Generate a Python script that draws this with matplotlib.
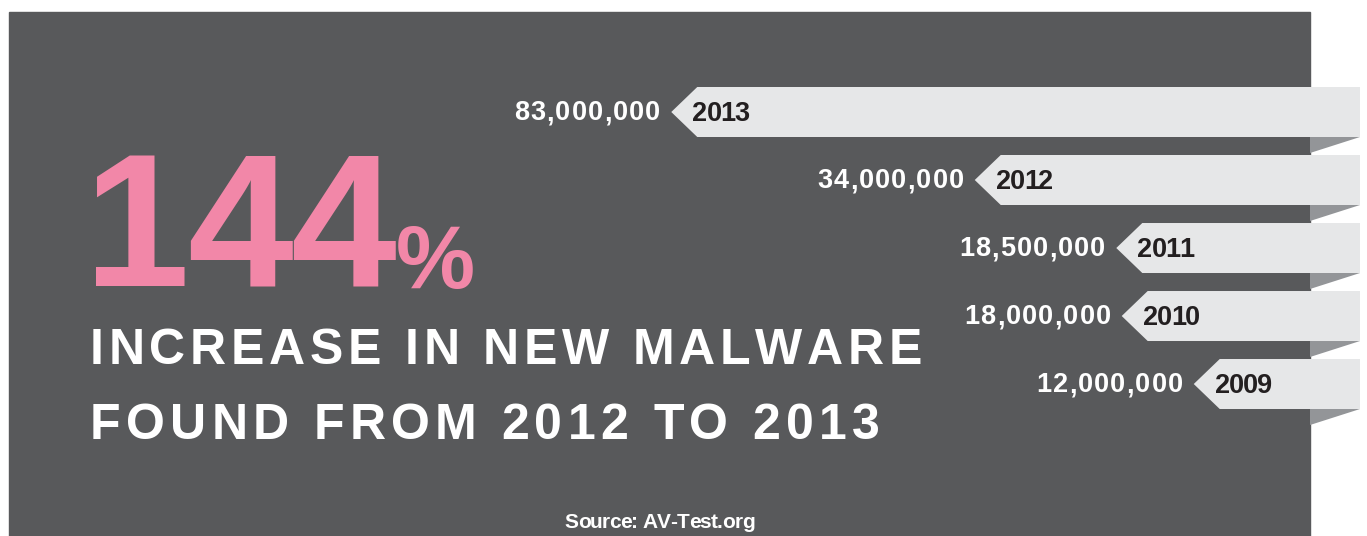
import numpy as np
import matplotlib
matplotlib.use("Agg")
import matplotlib.pyplot as plt
from matplotlib.patches import Polygon, Rectangle
from matplotlib.font_manager import FontProperties, findfont
from matplotlib.ft2font import FT2Font, LoadFlags

# new malware samples per year (AV-Test)
years = ["2013", "2012", "2011", "2010", "2009"]
new_malware = [83_000_000, 34_000_000, 18_500_000, 18_000_000, 12_000_000]
headline_value = "144"
headline_lines = ["INCREASE IN NEW MALWARE", "FOUND FROM 2012 TO 2013"]
source_note = "Source: AV-Test.org"

W, H, DPI = 1367, 536, 100
PANEL = "#58595b"
RIBBON = "#e6e7e8"
FOLD = "#939598"
PINK = "#f287a8"
INK = "#231f20"

BOLD = FontProperties(family=["Liberation Sans", "DejaVu Sans"], weight="bold")
FONT_FILE = findfont(BOLD)


def glyphs(s, size):
    # bearing, ink width and advance (pixels) for every character
    font = FT2Font(FONT_FILE)
    font.set_size(size, DPI)
    out = []
    for ch in s:
        g = font.load_char(ord(ch), flags=LoadFlags.NO_HINTING)
        out.append((ch, g.horiBearingX / 64, g.width / 64, g.linearHoriAdvance / 65536))
    return out


def layout(s, size, tracking):
    # pen origin of each glyph plus the ink extent of the whole run
    pen, placed, inked = 0.0, [], []
    for ch, bx, w, adv in glyphs(s, size):
        placed.append((ch, pen))
        if ch != " ":
            inked.append((pen + bx, pen + bx + w))
        pen += adv + tracking
    return placed, inked[0][0], inked[-1][1]


def tracked_text(ax, x, y, s, size, color, tracking=0.0, width=None, ha="left"):
    if width is not None and len(s) > 1:
        _, l0, r0 = layout(s, size, 0.0)
        tracking = (width - (r0 - l0)) / (len(s) - 1)
    placed, left, right = layout(s, size, tracking)
    if ha == "left":
        shift = x - left
    elif ha == "right":
        shift = x - right
    else:
        shift = x - (left + right) / 2
    for ch, pen in placed:
        if ch == " ":
            continue
        ax.text(pen + shift, y, ch, fontproperties=BOLD, fontsize=size,
                color=color, ha="left", va="baseline")


fig = plt.figure(figsize=(W / DPI, H / DPI), dpi=DPI, facecolor="white")

# canvas in pixel units, origin top-left
ax = fig.add_axes([0, 0, 1, 1])
ax.set_xlim(0, W)
ax.set_ylim(H, 0)
ax.axis("off")

# value axis: square-root scale running right to left, one row per year
vax = fig.add_axes([0, 0, 1, 1], facecolor="none")
vax.set_xscale("function", functions=(lambda v: np.sqrt(np.clip(v, 0, None)),
                                      lambda s: np.square(s)))
vax.set_xlim(2.678e8, 2.534e6)
vax.set_ylim(6.235, -1.647)
vax.axis("off")

ax.add_patch(Rectangle((9, 12), 1301, H - 12, color=PANEL, zorder=0))

RIBBON_END, PANEL_EDGE = 1360, 1310
half, notch, fold = 25, 26, 16

for i, (yr, v) in enumerate(zip(years, new_malware)):
    xd, yd = vax.transData.transform((v, i))
    tip, yc = xd, H - yd
    ax.add_patch(Polygon([(PANEL_EDGE, yc + half), (RIBBON_END, yc + half),
                          (PANEL_EDGE, yc + half + fold)],
                         closed=True, color=FOLD, lw=0, zorder=1))
    ax.add_patch(Polygon([(tip, yc), (tip + notch, yc - half),
                          (RIBBON_END, yc - half), (RIBBON_END, yc + half),
                          (tip + notch, yc + half)],
                         closed=True, color=RIBBON, lw=0, zorder=2))
    tracked_text(ax, tip - 12, yc + 8, f"{v:,}", 19.5, "white", tracking=1.2, ha="right")
    tracked_text(ax, tip + 22, yc + 9, yr, 19.5, INK, tracking=-1.0)

# headline figure
tracked_text(ax, 96, 286, headline_value, 137, PINK, tracking=-3.0)
tracked_text(ax, 398, 288, "%", 64, PINK)
tracked_text(ax, 93, 364, headline_lines[0], 36, "white", width=827)
tracked_text(ax, 93, 439, headline_lines[1], 36, "white", width=785)

tracked_text(ax, 659, 528, source_note, 15, "white", width=188, ha="center")

fig.savefig("out.png", dpi=DPI, facecolor="white")
